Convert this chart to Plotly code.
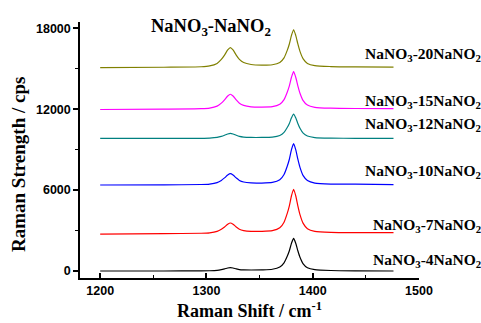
import plotly.graph_objects as go

# Raman shift sample positions (cm^-1)
shift = [1200, 1260, 1295, 1303, 1310, 1314, 1317, 1320, 1322.5, 1325, 1328, 1331,
         1335, 1342, 1352, 1362, 1369, 1373, 1376, 1378, 1380, 1382, 1384, 1386,
         1388, 1391, 1395, 1402, 1417, 1440, 1476]

nano2_4 = [0, 0, 8, 18, 50, 100, 155, 220, 250, 220, 155, 100,
           79, 73, 86, 129, 293, 605, 1089, 1500, 2057, 2420, 2057, 1500,
           1016, 532, 242, 97, 36, 12, 0]
nano2_7 = [2740, 2770, 2800, 2834, 2940, 3090, 3260, 3470, 3560, 3470, 3270, 3100,
           3000, 2940, 2940, 2990, 3200, 3620, 4270, 4830, 5580, 6065, 5580, 4830,
           4180, 3530, 3140, 2940, 2860, 2840, 2840]
nano2_10 = [6380, 6390, 6415, 6450, 6560, 6720, 6905, 7120, 7220, 7120, 6905, 6720,
            6600, 6530, 6525, 6570, 6770, 7160, 7770, 8290, 9000, 9455, 9000, 8290,
            7685, 7070, 6710, 6520, 6450, 6440, 6400]
nano2_12 = [9830, 9835, 9840, 9855, 9905, 9980, 10065, 10165, 10210, 10165, 10065, 9980,
            9930, 9905, 9905, 9930, 10050, 10280, 10640, 10945, 11360, 11630, 11360, 10945,
            10585, 10225, 10010, 9900, 9857, 9840, 9830]
nano2_15 = [11980, 12005, 12040, 12085, 12230, 12450, 12690, 12980, 13110, 12980, 12690, 12450,
            12285, 12180, 12160, 12190, 12370, 12715, 13265, 13735, 14370, 14785, 14370, 13735,
            13190, 12640, 12305, 12140, 12075, 12055, 12050]
nano2_20 = [15090, 15115, 15150, 15210, 15400, 15695, 16015, 16400, 16575, 16400, 16015, 15695,
            15460, 15315, 15270, 15300, 15465, 15810, 16365, 16840, 17480, 17895, 17480, 16840,
            16290, 15730, 15400, 15230, 15165, 15140, 15130]

series_names = ["NaNO<sub>3</sub>-4NaNO<sub>2</sub>", "NaNO<sub>3</sub>-7NaNO<sub>2</sub>",
                "NaNO<sub>3</sub>-10NaNO<sub>2</sub>", "NaNO<sub>3</sub>-12NaNO<sub>2</sub>",
                "NaNO<sub>3</sub>-15NaNO<sub>2</sub>", "NaNO<sub>3</sub>-20NaNO<sub>2</sub>"]
series_values = [nano2_4, nano2_7, nano2_10, nano2_12, nano2_15, nano2_20]
series_colors = ["#000000", "#FF0000", "#0000FF", "#008080", "#FF00FF", "#808000"]
label_y = [800, 3400, 7350, 10900, 12550, 16050]

x_ticks = [1200, 1300, 1400, 1500]
y_ticks = [0, 6000, 12000, 18000]

serif = "Liberation Serif, Times New Roman, serif"
sans = "Liberation Sans, Arial, sans-serif"

fig = go.Figure()
for name, vals, col in zip(series_names, series_values, series_colors):
    fig.add_trace(go.Scatter(x=shift, y=vals, mode="lines", name=name,
                             line=dict(color=col, width=1.2, shape="spline", smoothing=0.6),
                             showlegend=False))

for name, ly in zip(series_names, label_y):
    fig.add_annotation(x=1.19, xref="paper", y=ly, yref="y", text=f"<b>{name}</b>",
                       showarrow=False, xanchor="right", yanchor="middle",
                       font=dict(family=serif, size=15.5, color="black"))

fig.add_annotation(x=0.386, xref="paper", y=0.98, yref="paper",
                   text="<b>NaNO<sub>3</sub>-NaNO<sub>2</sub></b>", showarrow=False,
                   xanchor="center", yanchor="middle",
                   font=dict(family=serif, size=18.5, color="black"))

fig.add_annotation(x=-0.183, xref="paper", y=0.445, yref="paper",
                   text="<b>Raman Strength / cps</b>", showarrow=False, textangle=-90,
                   xanchor="center", yanchor="middle",
                   font=dict(family=serif, size=19, color="black"))

axis_common = dict(showline=True, linecolor="black", linewidth=1.5,
                   ticklen=5, tickwidth=1.5, tickcolor="black", showgrid=False,
                   zeroline=False, mirror=False, automargin=False,
                   tickfont=dict(family=sans, size=12.5, color="black", weight="bold"))

fig.update_layout(
    width=481, height=323,
    margin=dict(l=80, r=62, t=22, b=45),
    paper_bgcolor="white", plot_bgcolor="white",
    xaxis=dict(range=[1181, 1500], tickvals=x_ticks, ticktext=[str(v) for v in x_ticks],
               ticks="inside",
               minor=dict(tickvals=[1250, 1350, 1450], ticks="inside", ticklen=3,
                          tickwidth=1.2, tickcolor="black"),
               title=dict(text="<b>Raman Shift / cm<sup>-1</sup></b>", standoff=8,
                          font=dict(family=serif, size=18, color="black")),
               **axis_common),
    yaxis=dict(range=[-520, 18470], tickvals=y_ticks, ticktext=[str(v) for v in y_ticks],
               ticks="outside",
               minor=dict(tickvals=[3000, 9000, 15000], ticks="outside", ticklen=3,
                          tickwidth=1.2, tickcolor="black"),
               **axis_common),
)

fig.write_html("out.html", config={"displayModeBar": False},
               post_script="document.body.style.margin='0';document.body.style.overflow='hidden';")
